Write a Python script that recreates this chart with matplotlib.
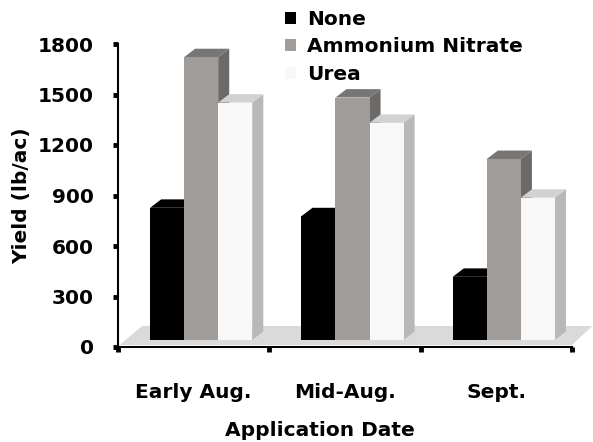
import numpy as np
import matplotlib.pyplot as plt
from matplotlib.patches import Polygon

dates = ["Early Aug.", "Mid-Aug.", "Sept."]
series = ["None", "Ammonium Nitrate", "Urea"]
none = [785, 735, 375]
ammonium = [1680, 1440, 1075]
urea = [1410, 1290, 845]
yticks = [0, 300, 600, 900, 1200, 1500, 1800]

front = ["#000000", "#a09c9a", "#f8f8f8"]
top = ["#000000", "#787674", "#d2d2d2"]
side = ["#000000", "#6c6a68", "#b8b8b8"]

# fake 3d geometry (category units / value units)
w = 0.225
x0 = 0.212
dx = 0.073
dy = 50
base = 42

fs = 14.5
fig = plt.figure(figsize=(5.93, 4.42), dpi=100)
ax = fig.add_axes([118/593, 1 - 347/442, (572 - 118)/593, (347 - 44)/442])
ax.set_xlim(0, 3)
ax.set_ylim(0, 1800)

# floor
floor = Polygon([(0.01, 12), (3, 12), (3.135, 125), (0.16, 125)],
                closed=True, facecolor="#dadada", edgecolor="none",
                zorder=1, clip_on=False)
ax.add_patch(floor)

z = 2
for k, vals in enumerate([none, ammonium, urea]):
    xs = np.arange(len(dates)) + x0 + k * w
    for x, v in zip(xs, vals):
        t = base + v
        ax.add_patch(Polygon([(x + w, base), (x + w + dx, base + dy),
                              (x + w + dx, t + dy), (x + w, t)],
                             facecolor=side[k], edgecolor="none", zorder=z, clip_on=False))
        ax.add_patch(Polygon([(x, t), (x + w, t), (x + w + dx, t + dy), (x + dx, t + dy)],
                             facecolor=top[k], edgecolor="none", zorder=z + 0.1, clip_on=False))
    ax.bar(xs, vals, w, bottom=base, align="edge", color=front[k],
           label=series[k], zorder=z + 0.2, clip_on=False)
    z += 1

for s in ["top", "right"]:
    ax.spines[s].set_visible(False)
for s in ["left", "bottom"]:
    ax.spines[s].set_linewidth(1.5)
    ax.spines[s].set_zorder(10)

ax.set_yticks(yticks)
ax.set_yticklabels([str(v) for v in yticks], fontsize=fs, fontweight="bold")
ax.tick_params(axis="y", direction="out", length=3.5, width=3.5, pad=14)

ax.set_xticks([0.5, 1.5, 2.5])
ax.set_xticklabels(dates, fontsize=fs, fontweight="bold")
ax.tick_params(axis="x", which="major", length=0, pad=26)
ax.set_xticks([0, 1, 2, 3], minor=True)
ax.tick_params(axis="x", which="minor", direction="out", length=3.5, width=3.5)

fig.text(22/593, 1 - 196/442, "Yield (lb/ac)", rotation=90, ha="center", va="center",
         fontsize=fs, fontweight="bold")
fig.text(320/593, 1 - 430/442, "Application Date", ha="center", va="center",
         fontsize=fs, fontweight="bold")

fig.legend(loc="upper left", bbox_to_anchor=(285/593, 1 - 10/442), frameon=False,
           prop={"size": fs, "weight": "bold"}, handlelength=0.55, handleheight=0.55,
           handletextpad=0.55, labelspacing=0.42, borderpad=0, borderaxespad=0)

fig.savefig("out.png", dpi=100)
